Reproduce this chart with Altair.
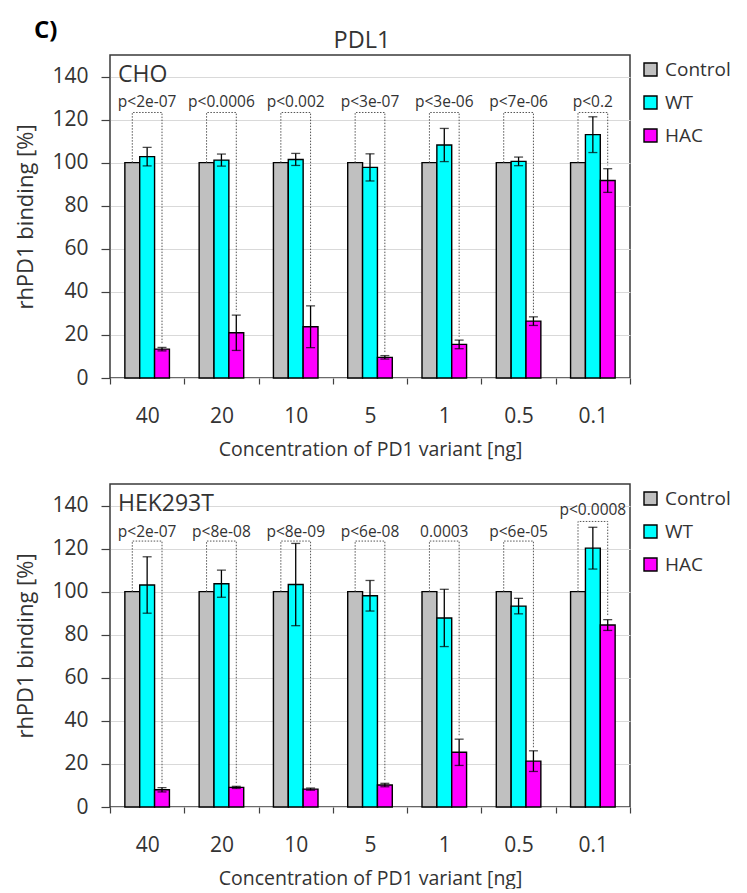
import altair as alt
import pandas as pd

FONT = "Open Sans"

categories = ["40", "20", "10", "5", "1", "0.5", "0.1"]
groups = ["Control", "WT", "HAC"]
colors = ["#C0C0C0", "#00FFFF", "#FF00FF"]

# CHO panel
cho_control = [100, 100, 100, 100, 100, 100, 100]
cho_wt = [102.8, 101.2, 101.5, 97.8, 108.2, 100.6, 113.0]
cho_wt_err = [4.3, 2.8, 2.8, 6.3, 7.7, 2.0, 8.3]
cho_hac = [13.4, 21.0, 23.8, 9.6, 15.6, 26.4, 91.7]
cho_hac_err = [0.8, 8.2, 9.7, 0.8, 2.0, 2.0, 5.5]
cho_p = ["p<2e-07", "p<0.0006", "p<0.002", "p<3e-07", "p<3e-06", "p<7e-06", "p<0.2"]
cho_bracket = [123.3, 123.3, 123.3, 123.3, 123.3, 123.3, 123.3]
cho_label = [128.2, 128.2, 128.2, 128.2, 128.2, 128.2, 128.2]

# HEK293T panel
hek_control = [100, 100, 100, 100, 100, 100, 100]
hek_wt = [103.1, 103.7, 103.3, 98.1, 87.8, 93.3, 120.2]
hek_wt_err = [13.1, 6.3, 19.1, 7.1, 13.3, 3.6, 9.7]
hek_hac = [8.0, 9.1, 8.3, 10.2, 25.4, 21.3, 84.5]
hek_hac_err = [1.0, 0.5, 0.5, 0.8, 6.1, 4.8, 2.5]
hek_p = ["p<2e-07", "p<8e-08", "p<8e-09", "p<6e-08", "0.0003", "p<6e-05", "p<0.0008"]
hek_bracket = [123.5, 123.5, 123.5, 123.5, 123.5, 123.5, 132.6]
hek_label = [127.5, 127.5, 127.5, 127.5, 127.5, 127.5, 137.8]

y_ticks = [0, 20, 40, 60, 80, 100, 120, 140]

YAXIS = alt.Axis(
    values=y_ticks,
    title="rhPD1 binding [%]",
    grid=True,
    gridColor="#d9d9d9",
    tickSize=9,
    tickColor="#404040",
    tickWidth=1.2,
    labelPadding=13,
    labelFontSize=21,
    labelColor="#333333",
    labelFont=FONT,
    titleFont=FONT,
    titleFontSize=22,
    titleFontWeight="normal",
    titleColor="#333333",
    titlePadding=14,
    domain=False,
)

LEGEND = alt.Legend(
    title=None,
    orient="none",
    legendX=531,
    legendY=5,
    symbolType="square",
    symbolSize=169,
    symbolStrokeColor="black",
    symbolStrokeWidth=1.4,
    labelFontSize=19,
    labelFont=FONT,
    labelColor="#333333",
    labelOffset=5,
    rowPadding=13,
    padding=0,
)


def panel(name, control, wt, wt_err, hac, hac_err, pvals, br_y, lab_y, title=None):
    bars = []
    errs = []
    caps = []
    brk = []
    labs = []
    for i, c in enumerate(categories):
        bars.append({"category": c, "group": "Control", "value": control[i]})
        bars.append({"category": c, "group": "WT", "value": wt[i]})
        bars.append({"category": c, "group": "HAC", "value": hac[i]})
        for g, v, e in (("WT", wt[i], wt_err[i]), ("HAC", hac[i], hac_err[i])):
            errs.append({"category": c, "group": g, "lo": v - e, "hi": v + e})
            caps.append({"category": c, "group": g, "y": v - e})
            caps.append({"category": c, "group": g, "y": v + e})
        brk += [
            {"category": c, "group": "Control", "y": control[i], "o": 0},
            {"category": c, "group": "Control", "y": br_y[i], "o": 1},
            {"category": c, "group": "HAC", "y": br_y[i], "o": 2},
            {"category": c, "group": "HAC", "y": hac[i] + hac_err[i] + 1.5, "o": 3},
        ]
        labs.append({"category": c, "group": "WT", "y": lab_y[i], "text": pvals[i]})

    xaxis = alt.Axis(
        title="Concentration of PD1 variant [ng]",
        labelAngle=0,
        tickBand="extent",
        tickSize=6,
        tickColor="#404040",
        tickWidth=1.2,
        labelPadding=21,
        labelFontSize=21,
        labelColor="#333333",
        labelFont=FONT,
        titleFont=FONT,
        titleFontSize=19.5,
        titleFontWeight="normal",
        titleColor="#333333",
        titlePadding=14,
        domain=False,
        grid=False,
    )
    xs = alt.X(
        "category:N",
        sort=categories,
        scale=alt.Scale(domain=categories, paddingInner=0, paddingOuter=0),
        axis=xaxis,
    )
    xo = alt.XOffset(
        "group:N",
        sort=groups,
        scale=alt.Scale(domain=groups, paddingOuter=1, paddingInner=0),
    )
    yscale = alt.Scale(domain=[0, 150], nice=False)

    bar = alt.Chart(pd.DataFrame(bars)).mark_bar(
        stroke="black", strokeWidth=1.4
    ).encode(
        x=xs,
        xOffset=xo,
        y=alt.Y("value:Q", scale=yscale, axis=YAXIS),
        color=alt.Color(
            "group:N",
            sort=groups,
            scale=alt.Scale(domain=groups, range=colors),
            legend=LEGEND,
        ),
    )

    xs2 = alt.X("category:N", sort=categories, axis=xaxis)
    err = alt.Chart(pd.DataFrame(errs)).mark_rule(color="black", strokeWidth=1.3).encode(
        x=xs2,
        xOffset=alt.XOffset("group:N", sort=groups),
        y=alt.Y("lo:Q", scale=yscale, axis=YAXIS),
        y2="hi:Q",
    )
    cap = alt.Chart(pd.DataFrame(caps)).mark_tick(
        color="black", thickness=1.3, size=9, orient="horizontal"
    ).encode(
        x=xs2,
        xOffset=alt.XOffset("group:N", sort=groups),
        y=alt.Y("y:Q", scale=yscale, axis=YAXIS),
    )
    bracket = alt.Chart(pd.DataFrame(brk)).mark_line(
        color="#555555", strokeWidth=1, strokeDash=[1.5, 1.5]
    ).encode(
        x=xs2,
        xOffset=alt.XOffset("group:N", sort=groups),
        y=alt.Y("y:Q", scale=yscale, axis=YAXIS),
        detail="category:N",
        order="o:Q",
    )
    ptext = alt.Chart(pd.DataFrame(labs)).mark_text(
        fontSize=15.5, font=FONT, color="#333333", baseline="middle", align="center"
    ).encode(
        x=xs2,
        xOffset=alt.XOffset("group:N", sort=groups),
        y=alt.Y("y:Q", scale=yscale, axis=YAXIS),
        text="text:N",
    )
    name_text = alt.Chart(pd.DataFrame({"t": [name]})).mark_text(
        fontSize=23, font=FONT, color="#333333", align="left", baseline="alphabetic"
    ).encode(x=alt.value(8), y=alt.value(27), text="t:N")

    layers = [bar, err, cap, bracket, ptext, name_text]
    if title is not None:
        ctext = alt.Chart(pd.DataFrame({"t": ["C)"]})).mark_text(
            fontSize=24, font=FONT, fontWeight="bold", color="black",
            align="left", baseline="alphabetic"
        ).encode(x=alt.value(-76), y=alt.value(-17), text="t:N")
        ttext = alt.Chart(pd.DataFrame({"t": [title]})).mark_text(
            fontSize=23.5, font=FONT, color="#333333",
            align="center", baseline="alphabetic"
        ).encode(x=alt.value(252), y=alt.value(-7), text="t:N")
        layers += [ctext, ttext]

    return alt.layer(*layers).properties(width=520, height=323)


top = panel("CHO", cho_control, cho_wt, cho_wt_err, cho_hac, cho_hac_err,
            cho_p, cho_bracket, cho_label, title="PDL1")
bottom = panel("HEK293T", hek_control, hek_wt, hek_wt_err, hek_hac, hek_hac_err,
               hek_p, hek_bracket, hek_label)

chart = alt.vconcat(top, bottom, spacing=23).resolve_scale(
    color="independent"
).resolve_legend(color="independent").properties(
    padding={"left": 14, "top": 18, "right": 2, "bottom": 0},
    background="white",
).configure_view(
    stroke="#3a3a3a", strokeWidth=1.5
)

chart.save("out.html", embed_options={"renderer": "svg", "actions": False})
